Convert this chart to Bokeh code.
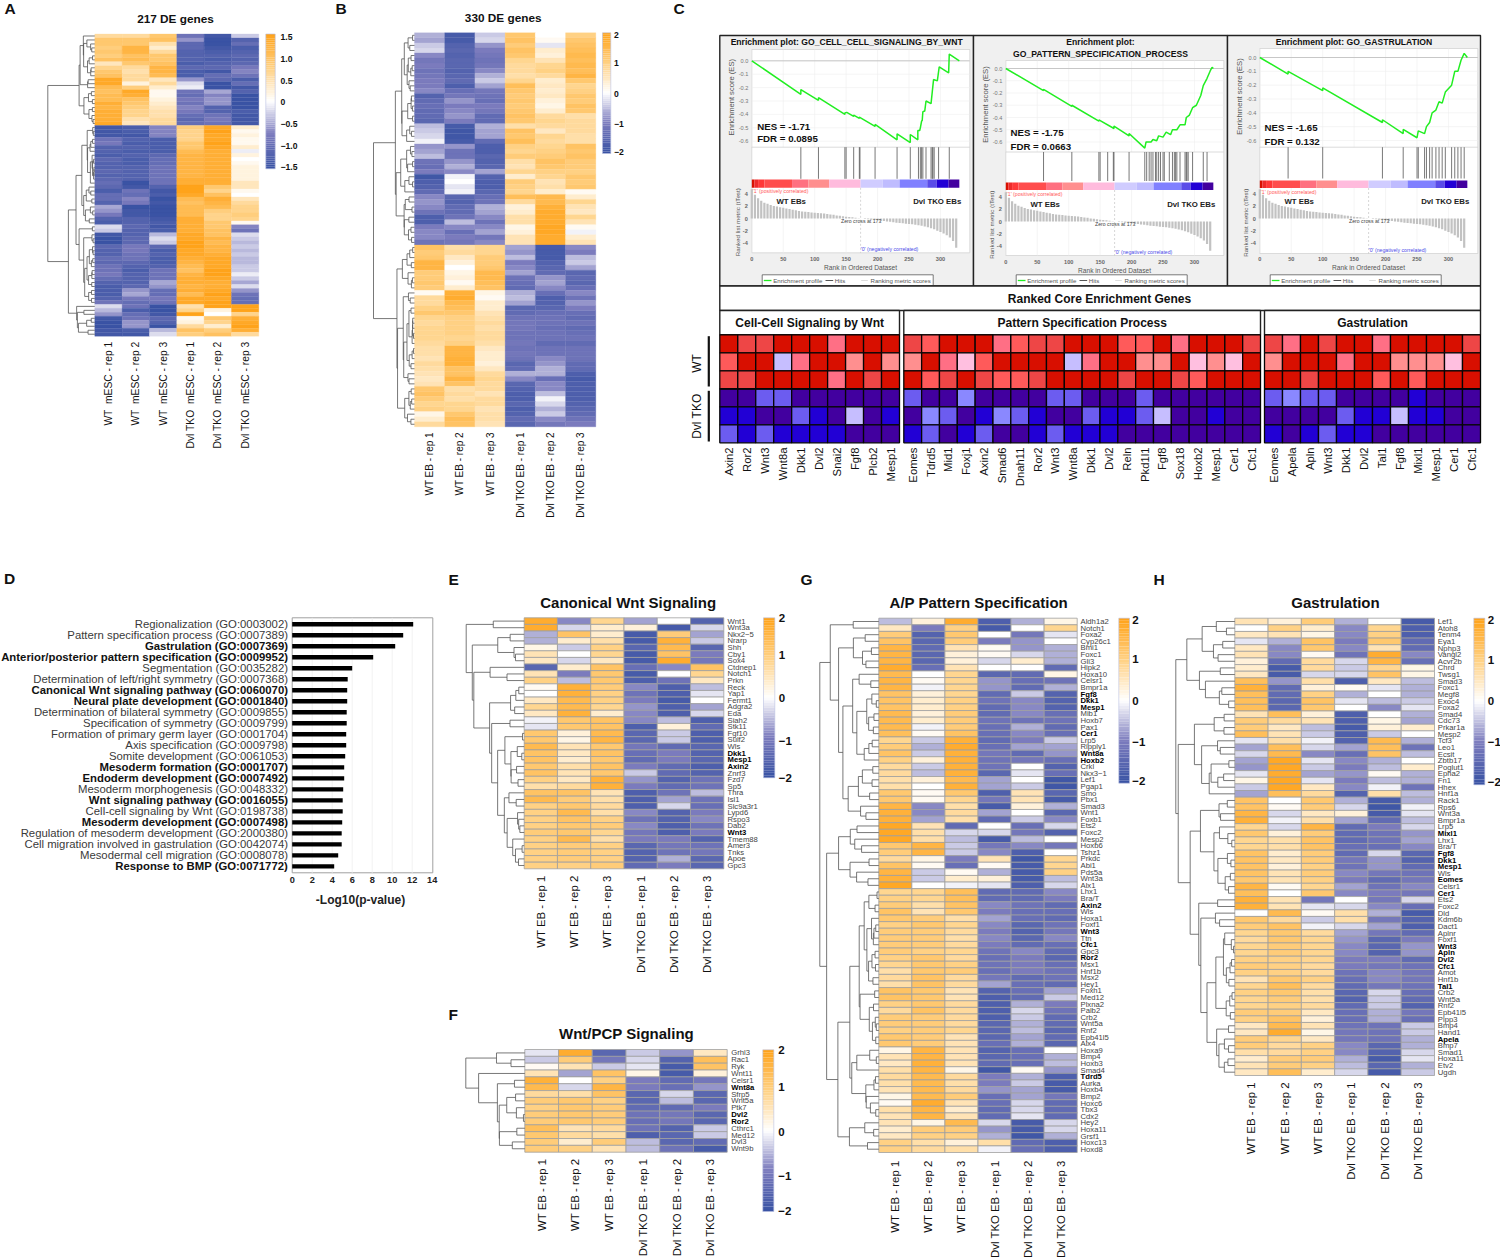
import numpy as np
from bokeh.embed import file_html
from bokeh.resources import INLINE
from bokeh.plotting import figure
from bokeh.models import Range1d, ColumnDataSource
from bokeh.core.properties import value

# ---------------- DATA ----------------
A_COLS = ["WT \u00a0mESC - rep 1", "WT \u00a0mESC - rep 2", "WT \u00a0mESC - rep 3",
          "Dvl TKO \u00a0mESC - rep 1", "Dvl TKO \u00a0mESC - rep 2", "Dvl TKO \u00a0mESC - rep 3"]
EB_COLS = ["WT EB - rep 1", "WT EB - rep 2", "WT EB - rep 3",
           "Dvl TKO EB - rep 1", "Dvl TKO EB - rep 2", "Dvl TKO EB - rep 3"]

A_VALUES = [
[6,6,9,-9,-14,-3],[9,9,10,-6,-15,-12],[9,9,5,-11,-15,-10],[8,12,3,-11,-14,-13],[9,12,6,-12,-13,-12],
[8,10,9,-12,-12,-11],[10,11,9,-12,-13,-12],[4,9,10,-13,-12,-11],[7,6,12,-11,-11,-8],[9,5,12,-13,-14,-7],
[10,6,11,-13,-10,-9],[14,6,4,-6,-11,-13],[14,2,6,-2,-15,-10],[11,8,3,-1,-15,-14],[10,14,1,-9,-5,-12],
[11,13,1,-10,-7,-15],[11,10,2,-8,-6,-15],[13,9,3,-9,-6,-16],[12,8,4,-7,-12,-15],[13,7,5,-8,-12,-13],
[13,7,5,-10,-9,-14],[13,5,6,-11,-8,-14],[14,4,6,-10,-9,-14],
[-14,-13,-7,8,14,3],[-14,-13,-7,7,15,1],[-14,-14,-7,7,14,2],[-9,-12,-13,7,14,1],[-8,-13,-13,9,15,1],
[-12,-12,-13,9,14,3],[-12,-13,-13,11,13,-1],[-13,-12,-11,12,13,2],[-11,-13,-10,12,13,0],[-12,-13,-10,12,13,1],
[-12,-12,-9,12,13,2],[-11,-12,-9,12,13,2],[-12,-12,-9,12,13,2],[-11,-12,-9,13,13,2],[-10,-15,-9,13,13,4],
[-11,-14,-12,16,9,4],[-13,-9,-14,15,7,1],[-10,-10,-13,14,10,0],[-10,-7,-15,11,13,4],[-12,-8,-14,10,12,6],
[-5,-15,-15,11,11,7],[-6,-14,-15,11,8,7],[-8,-14,-15,11,7,8],[-12,-12,-14,13,7,7],[-13,-12,-13,13,9,1],
[-2,-11,-14,13,9,-7],[-3,-12,-13,13,10,-9],[-14,-12,-4,14,10,-2],[-15,-11,-2,14,12,-3],[-15,-11,-3,15,11,-4],
[-11,-8,-11,15,12,-3],[-12,-8,-13,14,12,-4],[-12,-9,-12,14,13,-3],[-10,-9,-13,13,14,-4],[-11,-11,-13,12,14,-4],
[-9,-12,-12,11,14,-3],[-9,-13,-9,10,15,-3],[-8,-12,-9,12,15,-1],[-10,-12,-9,13,14,-3],[-12,-12,-5,13,13,-5],
[-13,-11,-6,12,13,-2],[-13,-6,-10,13,14,-6],[-13,-5,-10,11,15,-9],[-12,-8,-8,14,14,-10],[-9,-10,-9,14,15,-10],
[-2,-9,-15,5,15,15],[-4,-13,-15,7,2,15],[-6,-10,-14,16,0,7],[-14,-9,-11,1,9,13],[-15,-6,-12,2,7,14],
[-15,-6,-15,6,3,15],[-14,-13,-4,10,8,13],[-14,-14,-2,8,10,6]]

B_VALUES = [
[-6,-18,-4,12,0,10],[-7,-18,-3,13,1,12],[-4,-16,-8,11,-2,13],[-3,-15,-10,13,4,14],[-9,-16,-11,12,3,15],
[-11,-15,-12,9,6,14],[-10,-15,-11,8,9,15],[-12,-16,-9,8,10,14],[-11,-15,-6,7,8,16],[-10,-14,-4,9,4,12],
[-10,-17,-7,14,5,9],[-9,-13,-11,12,4,10],[-16,-11,-12,11,5,12],[-14,-8,-13,12,3,11],[-13,-10,-10,11,2,13],
[-14,-9,-11,12,4,12],[-14,-8,-14,13,8,7],[-15,-10,-14,12,9,8],[-5,-18,-6,7,8,8],[-4,-19,-7,13,5,8],
[-3,-19,-7,12,9,7],[-1,-18,-14,14,8,7],[-8,-8,-17,10,9,13],[-7,-12,-17,9,10,12],[-5,-12,-15,11,11,13],
[-12,-8,-16,7,13,11],[-13,-6,-15,6,12,11],[-10,-9,-7,9,10,10],[-19,-1,-16,4,9,12],[-17,0,-17,11,6,11],
[-16,-2,-17,10,7,12],[-14,-1,-15,9,4,1],[-9,-15,-13,14,15,4],[-8,-16,-12,8,15,9],[-9,-14,-6,3,17,6],
[-12,-14,-7,4,18,5],[-17,-12,-9,7,18,9],[-17,-5,-12,7,18,6],[-10,-9,-9,2,19,1],[-9,-13,-7,3,19,-1],
[-9,-10,-11,6,18,4],[-12,-11,-9,6,18,6],
[13,7,9,-7,-18,-9],[11,8,9,-8,-18,-10],[12,5,11,-5,-18,-5],[16,3,11,-10,-16,-4],[16,0,12,-9,-15,-7],
[11,2,15,-7,-14,-15],[11,3,15,-12,-8,-14],[12,1,14,-13,-7,-15],[11,4,13,-14,-9,-13],[1,17,2,-6,-13,-9],
[8,18,1,-5,-17,-12],[8,15,4,-7,-16,-8],[10,14,4,-15,-15,-10],[12,12,6,-14,-13,-13],[9,10,7,-12,-12,-14],
[8,10,8,-11,-12,-12],[9,10,7,-11,-13,-14],[9,10,8,-12,-12,-13],[9,9,8,-12,-12,-12],[8,10,7,-11,-14,-14],
[7,16,5,-12,-12,-12],[7,16,4,-11,-12,-12],[6,17,4,-12,-9,-12],[8,17,3,-15,-8,-14],[7,13,5,-14,-6,-14],
[6,13,8,-6,-6,-17],[5,16,9,-9,-13,-18],[6,13,8,-15,-9,-17],[12,7,8,-16,-9,-17],[13,8,6,-17,-5,-17],
[11,7,8,-17,-1,-17],[9,9,8,-15,-3,-16],[10,9,6,-17,-6,-15],[2,12,7,-16,-4,-14],[4,14,7,-14,-9,-12],[8,13,6,-15,-11,-10]]

E_GENES = ["Wnt1","Wnt3a","Nkx2\u22125","Nrarp","Shh","Cby1","Sox4","Ctdnep1","Notch1","Prkn","Reck","Yap1","Fermt1",
           "Adgra2","Eda","Siah2","Stk11","Fgf10","Sulf2","Wls","Dkk1","Mesp1","Axin2","Znrf3","Fzd7","Sp5","Thra",
           "Isl1","Slc9a3r1","Lypd6","Rspo3","Dab2","Wnt3","Tmem88","Amer3","Tnks","Apoe","Gpc3"]
E_BOLD = ["Dkk1","Mesp1","Axin2","Wnt3"]
E_VALUES = [
[18,-9,9,-7,0,-16],[18,-3,4,3,-18,-3],[-6,13,4,-18,11,-7],[-6,4,7,-18,17,-4],[2,-4,10,-15,15,-15],
[6,0,9,-18,13,-10],[5,-3,5,-18,18,-11],[-15,4,13,-13,-9,13],[6,-10,12,-18,0,9],[10,-5,12,-17,-12,5],
[1,17,11,-9,-17,-5],[0,17,10,-12,-17,-2],[5,15,10,-10,-18,0],[9,15,9,-8,-17,-7],[5,17,4,-9,-17,-3],
[-1,12,13,-9,-5,-17],[-2,12,13,-17,3,-14],[12,3,15,-15,-4,-17],[12,2,16,-15,-4,-17],[15,6,12,-11,-14,-15],
[13,5,13,-13,-10,-16],[13,4,12,-14,-10,-15],[12,7,13,-10,-14,-17],[13,6,12,-4,-14,-16],[10,5,17,-8,-16,-12],
[7,8,17,-10,-14,-12],[13,13,6,-17,-12,-5],[15,11,7,-17,-7,-12],[10,12,8,-17,-3,-13],[10,15,7,-9,-16,-10],
[10,13,10,-12,-16,-9],[10,12,11,-9,-17,-12],[11,12,9,-11,-17,-10],[10,15,7,-10,-10,-16],[10,11,10,-15,-11,-12],
[10,11,10,-16,-12,-11],[10,11,10,-16,-6,-15],[10,10,11,-14,-10,-15]]

F_GENES = ["Grhl3","Rac1","Ryk","Wnt11","Celsr1","Wnt8a","Sfrp5","Wnt5a","Ptk7","Dvl2","Ror2","Cthrc1","Med12","Dvl3","Wnt9b"]
F_BOLD = ["Wnt8a","Dvl2","Ror2"]
F_VALUES = [
[-2,18,-15,-4,-8,5],[-4,11,-11,-3,-16,14],[1,6,-4,-2,-18,13],[6,-7,13,2,-18,3],[17,0,10,-10,-14,-11],
[15,-3,16,-10,-13,-8],[8,7,13,-15,-3,-15],[11,12,10,-15,-5,-15],[10,12,11,-14,-14,-10],[11,12,11,-12,-11,-15],
[11,12,11,-13,-11,-15],[14,6,8,-12,-16,-4],[12,8,7,-17,-15,-4],[11,4,11,-5,-15,-14],[11,10,6,-5,-12,-18]]

G_GENES = ["Aldh1a2","Notch1","Foxa2","Cyp26c1","Bmi1","Foxc1","Gli3","Hipk2","Hoxa10","Celsr1","Bmpr1a","Fgf8","Dkk1",
           "Mesp1","Mib1","Hoxb7","Pax1","Cer1","Lrp5","Ripply1","Wnt8a","Hoxb2","Crkl","Nkx3\u22121","Lef1","Pgap1","Smo",
           "Pbx1","Smad3","Wnt1","Foxb1","Ets2","Foxc2","Mesp2","Hoxb6","Tshz1","Prkdc","Abi1","Pds5a","Wnt3a","Alx1",
           "Lhx1","Bra/T","Axin2","Wls","Hoxa1","Foxf1","Wnt3","Ttn","Cfc1","Gpc3","Ror2","Msx1","Hnf1b","Msx2","Hey1",
           "Foxh1","Med12","Plxna2","Palb2","Crb2","Wnt5a","Rnf2","Epb41l5","Alx4","Hoxa9","Bmp4","Hoxb3","Smad4","Tdrd5",
           "Aurka","Hoxb4","Bmp2","Hoxc6","Tbx3","Cdx2","Hey2","Hoxa11","Grsf1","Hoxc13","Hoxd8"]
G_BOLD = ["Fgf8","Dkk1","Mesp1","Cer1","Wnt8a","Hoxb2","Axin2","Wnt3","Cfc1","Ror2","Tdrd5"]
G_VALUES = [
[-5,3,18,-17,-6,2],[5,-10,10,-18,0,9],[11,-16,12,0,-11,-2],[13,-15,11,-10,-8,0],[16,-14,6,1,-8,-6],
[16,-15,3,1,-3,-6],[16,-15,3,-3,4,-6],[18,-13,6,0,0,-14],[15,0,9,-15,-14,2],[16,1,9,-8,-13,-12],
[16,-1,9,-8,-14,-6],[13,3,9,-14,-4,-16],[13,4,10,-12,-9,-16],[13,4,10,-14,-9,-16],[15,3,11,-14,-9,-13],
[15,4,11,-12,-12,-12],[15,-1,11,-13,-6,-14],[14,1,13,-13,-9,-13],[9,-4,17,-14,-10,-4],[11,-6,18,-13,-7,-7],
[13,-4,17,-11,-14,-8],[10,3,17,-12,-11,-13],[8,-4,17,-12,0,-16],[8,-5,17,-15,-2,-13],[7,3,15,-7,0,-19],
[7,0,17,-7,-4,-19],[12,1,12,-17,6,-15],[12,1,9,-11,6,-18],[16,-9,7,-18,3,-6],[17,-9,8,-7,0,-15],
[17,-7,7,-14,-4,-9],[19,6,-14,0,-13,-3],[19,7,-3,-3,-11,-16],[19,7,-5,-18,-5,0],[12,16,-4,-11,-9,-11],
[11,16,-4,-9,-17,0],[8,2,-10,6,-19,9],[13,1,-13,1,-18,9],[16,-4,1,-6,-18,10],[17,-4,4,3,-18,-5],
[19,0,-1,-2,-17,-3],[9,9,14,-14,-14,-9],[10,9,14,-14,-14,-10],[11,7,13,-9,-12,-14],[13,6,12,-10,-13,-13],
[12,11,7,-7,-13,-14],[10,12,9,-9,-15,-12],[11,11,8,-10,-16,-11],[11,11,7,-9,-15,-9],[11,11,8,-10,-14,-13],
[11,10,9,-12,-9,-14],[10,12,8,-13,-10,-15],[9,12,10,-12,-10,-13],[7,12,11,-13,-10,-12],[8,13,8,-11,-14,-12],
[7,13,8,-7,-13,-14],[13,12,6,-16,-13,-7],[13,12,6,-17,-14,-4],[10,12,8,-17,-6,-10],[8,13,8,-17,-3,-12],
[11,11,8,-17,-4,-14],[11,11,8,-15,-6,-14],[10,11,9,-15,-5,-15],[12,11,6,-15,-7,-14],[12,11,6,-13,-6,-15],
[2,16,6,-16,-13,0],[6,16,6,-15,-13,-6],[5,17,6,-14,-13,-5],[7,16,2,-19,1,-8],[8,15,8,-10,-6,-17],
[7,15,7,-10,-4,-18],[6,15,8,-8,-7,-18],[2,15,11,-13,-7,-11],[1,18,6,-13,-3,-14],[7,16,4,-14,-3,-14],
[6,16,6,-14,-2,-14],[6,2,15,-3,-18,-3],[4,11,11,-8,-18,-3],[5,10,10,-6,-19,-6],[10,7,3,7,-14,-17],[10,8,7,-1,-13,-17]]

H_GENES = ["Lef1","Atoh8","Tenm4","Eya1","Nphp3","Vangl2","Acvr2b","Chrd","Twsg1","Smad3","Foxc1","Megf8","Exoc4","Foxa2",
           "Smad4","Cdc73","Prkar1a","Mesp2","Tcf3","Leo1","Ecsit","Zbtb17","Poglut1","Epha2","Fn1","Hhex","Hnf1a","Rack1",
           "Rps6","Wnt3a","Bmpr1a","Lrp5","Mixl1","Lhx1","Bra/T","Fgf8","Dkk1","Mesp1","Wls","Eomes","Celsr1","Cer1","Ets2",
           "Foxc2","Dld","Kdm6b","Dact1","Aplnr","Foxf1","Wnt3","Apln","Dvl2","Cfc1","Amot","Hnf1b","Tal1","Crb2","Wnt5a",
           "Rnf2","Epb41l5","Plpp3","Bmp4","Hand1","Apela","Bmp7","Smad1","Hoxa11","Etv2","Ugdh"]
H_BOLD = ["Mixl1","Fgf8","Dkk1","Mesp1","Eomes","Cer1","Wnt3","Apln","Dvl2","Cfc1","Tal1","Apela"]
H_VALUES = [
[6,3,11,-6,0,-18],[0,10,4,-9,9,-17],[5,6,2,-9,10,-17],[-2,-6,13,-10,12,-14],[5,-9,12,-9,6,-14],
[6,-9,1,-12,18,-9],[3,-14,8,-3,16,-13],[4,-18,8,-4,9,2],[5,-18,-3,-3,13,2],[14,-8,7,-17,5,-5],
[17,-14,3,1,-2,-6],[14,-14,10,-6,0,-6],[14,-15,13,-2,-5,-4],[14,-15,12,0,-9,-2],[6,14,3,-17,0,-6],
[11,8,6,-17,2,-7],[11,5,-5,-18,3,4],[14,6,-4,-17,-4,0],[-2,7,-1,-16,15,-6],[-7,14,-3,-7,14,-12],
[-3,15,-9,-13,13,-5],[-7,19,-2,-9,-6,0],[-8,19,-4,-10,-5,4],[-2,18,-7,-8,1,-6],[2,19,-2,-10,-5,-6],
[-4,19,5,-9,-1,-12],[-7,14,8,-16,7,-5],[13,0,12,-6,-18,-6],[13,1,11,-3,-19,-1],[16,-3,5,3,-18,-2],
[17,-1,7,-7,-14,-5],[9,-3,16,-14,-10,-3],[12,3,11,-14,-12,-8],[9,7,13,-14,-12,-7],[9,7,13,-13,-13,-9],
[13,4,11,-14,-3,-15],[13,5,11,-11,-8,-16],[13,3,10,-12,-8,-14],[13,6,11,-9,-11,-12],[12,6,10,-10,-14,-11],
[16,1,9,-7,-12,-9],[14,0,12,-9,-10,-11],[17,6,-11,0,-11,-3],[17,6,-2,-3,-9,-13],[0,15,1,7,-6,-18],
[12,8,-4,7,-11,-16],[11,13,-1,-3,-7,-17],[9,12,8,-7,-11,-14],[8,12,9,-8,-15,-10],[9,11,9,-9,-15,-8],
[9,11,9,-9,-16,-8],[10,10,9,-10,-10,-14],[11,10,8,-10,-11,-12],[10,10,8,-12,-9,-11],[6,12,10,-13,-9,-11],
[9,14,8,-14,-11,-12],[10,12,7,-15,-3,-13],[9,11,7,-16,-4,-14],[9,10,8,-14,-4,-16],[11,11,5,-13,-6,-11],
[10,13,3,-13,-6,-13],[5,15,6,-12,-12,-4],[5,18,2,-11,-12,-4],[11,9,5,-11,-12,-6],[11,8,10,-9,-15,-6],
[7,8,10,-9,-16,-3],[4,11,11,-6,-18,-2],[6,11,10,-5,-15,-6],[5,14,4,-3,-18,-4]]

GO_NAMES = ["Regionalization","Pattern specification process","Gastrulation","Anterior/posterior pattern specification",
            "Segmentation","Determination of left/right symmetry","Canonical Wnt signaling pathway","Neural plate development",
            "Determination of bilateral symmetry","Specification of symmetry","Formation of primary germ layer","Axis specification",
            "Somite development","Mesoderm formation","Endoderm development","Mesoderm morphogenesis","Wnt signaling pathway",
            "Cell-cell signaling by Wnt","Mesoderm development","Regulation of mesoderm development",
            "Cell migration involved in gastrulation","Mesodermal cell migration","Response to BMP"]
GO_IDS = ["0003002","0007389","0007369","0009952","0035282","0007368","0060070","0001840","0009855","0009799","0001704",
          "0009798","0061053","0001707","0007492","0048332","0016055","0198738","0007498","2000380","0042074","0008078","0071772"]
GO_VALUES = [12.1,11.1,10.3,8.1,6.0,5.55,5.5,5.5,5.45,5.45,5.4,5.4,5.3,5.2,5.2,5.1,5.05,5.05,5.0,4.95,4.95,4.6,4.2]
GO_BOLD = ["Gastrulation","Anterior/posterior pattern specification","Canonical Wnt signaling pathway","Neural plate development",
           "Mesoderm formation","Endoderm development","Wnt signaling pathway","Mesoderm development","Response to BMP"]
GO_TICKS = [0,2,4,6,8,10,12,14]

# rank metric, one value per 5 ranks
RANK_METRIC = [4.8,3.9,3.3,2.9,2.6,2.4,2.2,2.05,1.95,1.85,1.75,1.65,1.55,1.45,1.35,1.25,1.15,1.1,1.05,1.0,
               .95,.9,.85,.8,.75,.65,.6,.5,.45,.35,.3,.25,.2,.12,.05,-.02,-.08,-.13,-.2,-.25,
               -.3,-.35,-.42,-.48,-.55,-.6,-.68,-.72,-.78,-.85,-.9,-.95,-1.02,-1.1,-1.18,-1.3,-1.42,-1.58,-1.78,-2.0,
               -2.2,-2.45,-2.75,-3.1,-3.7,-4.8]
STRIP_EDGES = [0,4,10,20,64,90,123,173,208,235,279,294,313,330]
STRIP_COLORS = ["#D81000","#EE2A2A","#FF3838","#FF4D4D","#FF7080","#FF8F8F","#FFBBDD","#D0CCFF","#BFBCFF","#8080FF","#5A4CE8","#2200D5","#42009F"]

ES_RANK_1 = [0,78,78,106,106,148,148,151,162,162,171,171,196,196,231,231,252,252,264,264,267,268,270,271,272,275,277,285,287,289,295,298,313,314,330]
ES_VAL_1  = [0,-.25,-.215,-.295,-.275,-.4,-.39,-.385,-.415,-.405,-.43,-.42,-.49,-.475,-.59,-.545,-.61,-.55,-.59,-.52,-.52,-.5,-.45,-.445,-.38,-.375,-.3,-.32,-.23,-.14,-.15,-.045,-.09,.05,0]
HITS_1 = [78,106,148,150,162,171,172,196,231,252,265,268,270,272,277,285,287,288,290,297,314]

ES_RANK_2 = [0,60,60,105,105,148,148,172,172,196,196,221,223,231,234,240,243,250,255,262,265,272,277,285,287,292,297,303,310,314,320,325,328,330]
ES_VAL_2  = [0,-.18,-.17,-.31,-.30,-.43,-.42,-.49,-.47,-.55,-.53,-.65,-.6,-.6,-.58,-.59,-.55,-.56,-.52,-.54,-.5,-.5,-.46,-.46,-.4,-.38,-.32,-.3,-.22,-.14,-.08,-.02,.01,0]
HITS_2 = [60,105,148,150,162,171,172,196,221,224,228,231,234,238,240,243,246,250,252,260,265,268,270,272,277,285,287,288,290,297,314,320]

ES_RANK_3 = [0,45,45,100,100,195,195,228,228,250,252,262,265,270,274,280,285,290,295,305,310,315,320,325,330]
ES_VAL_3  = [0,-.12,-.1,-.24,-.22,-.47,-.45,-.55,-.52,-.58,-.53,-.55,-.5,-.47,-.4,-.38,-.32,-.33,-.25,-.2,-.1,-.1,-.02,.03,0]
HITS_3 = [45,100,195,228,250,252,262,265,270,274,280,285,290,295,305,310,315,320,325]

ES_TICKS = [0.0,-0.1,-0.2,-0.3,-0.4,-0.5,-0.6]
METRIC_TICKS = [4,2,0,-2,-4]
RANK_TICKS = [0,50,100,150,200,250,300]

GSEA_TITLES = [["Enrichment plot: GO_CELL_CELL_SIGNALING_BY_WNT"],
               ["Enrichment plot:","GO_PATTERN_SPECIFICATION_PROCESS"],
               ["Enrichment plot: GO_GASTRULATION"]]
GSEA_STATS = [["NES = -1.71","FDR = 0.0895"],["NES = -1.75","FDR = 0.0663"],["NES = -1.65","FDR = 0.132"]]

CORE_HEADERS = ["Cell-Cell Signaling by Wnt","Pattern Specification Process","Gastrulation"]
CORE_GENES_1 = ["Axin2","Ror2","Wnt3","Wnt8a","Dkk1","Dvl2","Snai2","Fgf8","Plcb2","Mesp1"]
CORE_GENES_2 = ["Eomes","Tdrd5","Mid1","Foxj1","Axin2","Smad6","Dnah11","Ror2","Wnt3","Wnt8a","Dkk1","Dvl2","Reln","Pkd1l1","Fgf8","Sox18","Hoxb2","Mesp1","Cer1","Cfc1"]
CORE_GENES_3 = ["Eomes","Apela","Apln","Wnt3","Dkk1","Dvl2","Tal1","Fgf8","Mixl1","Mesp1","Cer1","Cfc1"]
CORE_VALUES_1 = [[5,4,4,5,5,5,2,5,5,5],[3,5,5,-1,2,5,5,1,5,1],[4,4,5,5,5,5,2,5,4,5],
                 [-4,-4,-3,-3,-4,-4,-4,-4,-4,-4],[-5,-5,-4,-4,-3,-5,-4,-1,-4,-5],[-3,-5,-3,-5,-5,-5,-5,-4,-4,-4]]
CORE_VALUES_2 = [[4,3,5,5,5,2,3,4,4,5,5,5,3,3,5,2,5,5,5,4],[1,5,2,0,3,5,5,5,5,-1,2,5,5,1,1,5,0,1,0,5],
                 [5,3,4,5,4,3,3,4,5,5,5,5,4,5,5,4,3,5,5,5],[-3,-4,-4,-2,-4,-4,-4,-4,-3,-3,-4,-4,-4,-3,-4,-4,-4,-4,-4,-4],
                 [-4,-2,-3,-4,-5,-2,-3,-5,-4,-4,-3,-5,-5,-3,-1,-4,-4,-5,-4,-4],[-5,-3,-4,-5,-3,-4,-4,-5,-3,-5,-5,-5,-4,-4,-4,-4,-4,-4,-4,-4]]
CORE_VALUES_3 = [[4,2,5,4,5,5,2,5,5,5,5,4],[1,5,5,5,2,5,5,1,1,1,0,5],[5,5,4,5,5,5,3,5,3,5,5,5],
                 [-3,-2,-3,-3,-4,-4,-4,-4,-5,-4,-4,-4],[-4,-4,-4,-4,-3,-5,-5,-1,-5,-5,-4,-4],[-5,-4,-5,-3,-5,-5,-4,-4,-4,-4,-4,-4]]
CORE_PALETTE = {5:"#D80F00",4:"#EE4646",3:"#FF5A5A",2:"#FF6F85",1:"#FF8F8F",0:"#FFBFE0",
                -1:"#C6BEFF",-2:"#8A88FF",-3:"#6C5CF0",-4:"#42009F",-5:"#2200D5"}

# ---------------- CANVAS ----------------
FONT = value("Liberation Sans")
p = figure(width=1500, height=1259, x_range=Range1d(0, 1500), y_range=Range1d(1259, 0),
           output_backend="svg", toolbar_location=None, min_border=0)
p.axis.visible = False
p.grid.visible = False
p.outline_line_color = None
p.background_fill_color = "white"
p.border_fill_color = "white"

def T(x, y, s, size, color="#000000", bold=False, align="left", angle=0.0):
    p.text(x=[x], y=[y], text=[s], text_font=FONT, text_font_size=f"{size}px", text_color=color,
           text_font_style="bold" if bold else "normal", text_align=align, text_baseline="middle", angle=angle)

def vT(x, y, s, size, color="#000000", bold=False, align="right"):
    T(x, y, s, size, color, bold, align, np.pi / 2)

STOPS = [(-1, (0x3A,0x53,0xA4)), (-.5, (0x7B,0x7B,0xBD)), (0, (255,255,255)), (.5, (0xFF,0xD1,0x84)), (1, (0xFF,0xA3,0x1A))]
def cmap(t):
    t = max(-1, min(1, t))
    for (a, ca), (b, cb) in zip(STOPS[:-1], STOPS[1:]):
        if t <= b:
            f = (t - a) / (b - a)
            return "#%02X%02X%02X" % tuple(int(round(ca[k] + f * (cb[k] - ca[k]))) for k in range(3))
    return "#FFA31A"

def dendrogram(mat, x_right, width, y_top, rh, color="#555555"):
    m = np.array(mat, dtype=float)
    D = np.sqrt(((m[:, None, :] - m[None, :, :]) ** 2).sum(-1))
    cl = [dict(idx=[i], y=y_top + (i + .5) * rh, h=0.0) for i in range(len(m))]
    segs = []
    while len(cl) > 1:
        ds = [D[np.ix_(cl[i]["idx"], cl[i + 1]["idx"])].max() for i in range(len(cl) - 1)]
        i = int(np.argmin(ds))
        a, b = cl[i], cl[i + 1]
        h = max(ds[i], a["h"], b["h"])
        segs += [(a["h"], a["y"], h, a["y"]), (b["h"], b["y"], h, b["y"]), (h, a["y"], h, b["y"])]
        cl[i:i + 2] = [dict(idx=a["idx"] + b["idx"], y=(a["y"] + b["y"]) / 2, h=h)]
    hmax = cl[0]["h"]
    s = np.array(segs)
    p.segment(x_right - width * s[:, 0] / hmax, s[:, 1], x_right - width * s[:, 2] / hmax, s[:, 3],
              line_color=color, line_width=0.8)

def heatmap(values, vmax, box, border):
    l, r, t, b = box
    m = np.array(values, dtype=float) / 10
    nr, nc = m.shape
    cw, rh = (r - l) / nc, (b - t) / nr
    rr, cc = np.meshgrid(np.arange(nr), np.arange(nc), indexing="ij")
    cols = [cmap(v / vmax) for v in m.ravel()]
    src = ColumnDataSource(dict(left=l + cc.ravel() * cw, right=l + (cc.ravel() + 1) * cw,
                                top=t + rr.ravel() * rh, bottom=t + (rr.ravel() + 1) * rh, c=cols))
    if border:
        p.quad(left="left", right="right", top="top", bottom="bottom", fill_color="c", line_color="#A0A0A0", line_width=0.8, source=src)
    else:
        p.quad(left="left", right="right", top="top", bottom="bottom", fill_color="c", line_color="c", line_width=0.3, source=src)
    return cw, rh

def colorbar(vmax, box, labels, label_y, label_x, size):
    l, r, t, b = box
    lv = np.linspace(1, -1, 64)
    e = np.linspace(t, b, 65)
    p.quad(left=l, right=r, top=e[:-1], bottom=e[1:], fill_color=[cmap(v) for v in lv], line_color=None)
    p.quad(left=[l], right=[r], top=[t], bottom=[b], fill_color=None, line_color="#B8C0E0", line_width=0.6)
    for s, y in zip(labels, label_y):
        T(label_x, y, s, size, "#111111", True)

def column_labels(cols, left, cw, y, size):
    for i, s in enumerate(cols):
        vT(left + (i + .5) * cw, y, s, size, "#111111")

def gene_labels(genes, bold, x, top, rh, size):
    for i, g in enumerate(genes):
        T(x, top + (i + .5) * rh, g, size, "#000000" if g in bold else "#444444", g in bold)

# ---- panel letters ----
for s, x, y in [("A",4,8),("B",335,8),("C",673,8),("D",3.5,578),("E",448,579),("F",448,1014),("G",800,579),("H",1153,579)]:
    T(x, y, s, 15.5, "#111111", True)

# ---- A ----
box = (94.3, 258.3, 33.5, 335.7)
cw, rh = heatmap(A_VALUES, 1.5, box, False)
dendrogram(A_VALUES, box[0], 47, box[2], rh)
T(175, 18, "217 DE genes", 11.8, "#111111", True, "center")
colorbar(1.5, (265.3, 274.7, 33.5, 168.3), ["1.5","1.0","0.5","0","\u22120.5","\u22121.0","\u22121.5"], [36,58,80,101,123,145,166], 280, 8.6)
column_labels(A_COLS, box[0], cw, 341, 10.3)

# ---- B ----
box = (414, 595.3, 32.3, 426.3)
cw, rh = heatmap(B_VALUES, 2, box, False)
dendrogram(B_VALUES, box[0], 41, box[2], rh)
T(502.7, 17.5, "330 DE genes", 11.8, "#111111", True, "center")
colorbar(2, (602, 610.3, 32.3, 153), ["2","1","0","\u22121","\u22122"], [34,62,93,123,151], 613.5, 8.6)
column_labels(EB_COLS, box[0], cw, 431.7, 10)

# ---- C: GSEA plots ----
GSEA_LAYOUT = [
    dict(dx=0, es_top=49, es0=60.3, es6=140.7, es_bot=146.7, hit_bot=178.3, strip=(179,187.3), met_bot=252.3, met0=218, xlab=258.3, rlab=266.7, eb=200.7, nes=(756.7,126,137.7), pos=190.7, neg=248.7, ylab=96.7),
    dict(dx=254, es_top=60, es0=68, es6=141.5, es_bot=151.5, hit_bot=180.5, strip=(182,189.5), met_bot=255, met0=221, xlab=261, rlab=269.5, eb=204, nes=(1010,132,146), pos=193.5, neg=251.5, ylab=104),
    dict(dx=508, es_top=48, es0=57, es6=140, es_bot=146.7, hit_bot=178, strip=(180,187.5), met_bot=253, met0=218, xlab=258.5, rlab=267, eb=201, nes=(1264,127,141), pos=191, neg=249, ylab=96),
]
GSEA_DATA = [(ES_RANK_1, ES_VAL_1, HITS_1), (ES_RANK_2, ES_VAL_2, HITS_2), (ES_RANK_3, ES_VAL_3, HITS_3)]
BOXES = [(719.3, 973), (973, 1227), (1227, 1480)]
GRAYTXT = "#555555"
for k, L in enumerate(GSEA_LAYOUT):
    es_r, es_v, hits = GSEA_DATA[k]
    l, r = BOXES[k]
    p.quad(left=[l], right=[r], top=[35], bottom=[285.5], fill_color="#F0F0F0", line_color="#222222", line_width=1.4)
    x0 = 751.3 + L["dx"]
    xs = lambda v: x0 + np.asarray(v, dtype=float) * 0.6289
    x1 = x0 + 218
    es = lambda v: L["es0"] + (L["es6"] - L["es0"]) * np.asarray(v, dtype=float) / -0.6
    met = lambda v: L["met0"] - 6.1 * np.asarray(v, dtype=float)
    p.quad(left=[x0], right=[x1], top=[L["es_top"]], bottom=[L["met_bot"]], fill_color="white", line_color="#C8C8C8", line_width=0.6)
    # grid
    p.segment(xs(RANK_TICKS), L["es_top"], xs(RANK_TICKS), L["es_bot"], line_color="#EEEEEE", line_width=0.6)
    p.segment(xs(RANK_TICKS), L["strip"][1], xs(RANK_TICKS), L["met_bot"], line_color="#EEEEEE", line_width=0.6)
    p.segment(x0, es(ES_TICKS), x1, es(ES_TICKS), line_color="#EEEEEE", line_width=0.6)
    p.segment(x0, [L["es0"]], x1, [L["es0"]], line_color="#BBBBBB", line_width=0.8)
    p.segment(x0, [L["es_bot"]], x1, [L["es_bot"]], line_color="#CCCCCC", line_width=0.7)
    # curve and hits
    p.line(xs(es_r), es(es_v), line_color="#22EE22", line_width=1.5)
    p.segment(xs(hits), L["es_bot"], xs(hits), L["hit_bot"], line_color="#555555", line_width=0.8)
    # strip
    e = xs(STRIP_EDGES)
    p.quad(left=e[:-1], right=e[1:], top=L["strip"][0], bottom=L["strip"][1], fill_color=STRIP_COLORS, line_color=None)
    # metric
    rk = np.arange(len(RANK_METRIC)) * 5
    p.segment(xs(rk), met(0), xs(rk), met(RANK_METRIC), line_color="#C2C2C2", line_width=2.2)
    p.segment(xs([173]), L["strip"][1], xs([173]), L["met_bot"], line_color="#BBBBBB", line_width=0.6, line_dash="2 2")
    # texts
    for i, s in enumerate(GSEA_TITLES[k]):
        T((l + r) / 2, 41 + 12 * i, s, 8.6, "#111111", True, "center")
    for v in ES_TICKS:
        T(x0 - 3.5, float(es(v)), f"{v:.1f}", 5.6, "#777777", False, "right")
    for v in METRIC_TICKS:
        T(x0 - 4, float(met(v)), str(v), 5.6, "#666666", True, "right")
    for v in RANK_TICKS:
        T(float(xs(v)), L["xlab"], str(v), 5.6, "#666666", True, "center")
    vT(x0 - 20.5, L["ylab"], "Enrichment score (ES)", 7.6, GRAYTXT, False, "center")
    vT(x0 - 14.5, (L["strip"][1] + L["met_bot"]) / 2 + 2, "Ranked list metric (tTest)", 6.2, GRAYTXT, False, "center")
    T(x0 + 108.7, L["rlab"], "Rank in Ordered Dataset", 6.6, GRAYTXT, False, "center")
    T(L["nes"][0], L["nes"][1], GSEA_STATS[k][0], 9.7, "#111111", True)
    T(L["nes"][0], L["nes"][2], GSEA_STATS[k][1], 9.7, "#111111", True)
    T(x0 + 39.4, L["eb"], "WT EBs", 7.8, "#222222", True, "center")
    T(x0 + 185.4, L["eb"], "Dvl TKO EBs", 7.8, "#222222", True, "center")
    T(x0 + 1, L["pos"], "'1' (positively correlated)", 5.2, "#FF5A5A")
    T(x0 + 137.7, L["neg"], "'0' (negatively correlated)", 5.2, "#4A4AE8", False, "center")
    T(x0 + 109.4, L["met0"] + 2, "Zero cross at 173", 5.2, "#444444", False, "center")
    # legend
    dx = L["dx"]
    p.quad(left=[761.7 + dx], right=[932.7 + dx], top=[274.3], bottom=[285], fill_color="white", line_color="#444444", line_width=0.7)
    p.segment([763.3 + dx], [280], [771 + dx], [280], line_color="#22EE22", line_width=1.3)
    p.segment([825 + dx], [280], [832.7 + dx], [280], line_color="#555555", line_width=1)
    p.segment([860.7 + dx], [280], [867.3 + dx], [280], line_color="#DDDDDD", line_width=1)
    T(772.7 + dx, 280, "Enrichment profile", 6.1, GRAYTXT)
    T(834.3 + dx, 280, "Hits", 6.1, GRAYTXT)
    T(870 + dx, 280, "Ranking metric scores", 6.1, GRAYTXT)

# ---- C: core enrichment table ----
p.quad(left=[719.3], right=[1480], top=[285.5], bottom=[310], fill_color="white", line_color="#222222", line_width=1.4)
T(1099, 298, "Ranked Core Enrichment Genes", 12, "#111111", True, "center")
CORE_X = [(719.3, 899), (903.3, 1260), (1264, 1480)]
CORE_Y = (334.3, 442.3)
for (l, r), head, genes, vals in zip(CORE_X, CORE_HEADERS, [CORE_GENES_1, CORE_GENES_2, CORE_GENES_3],
                                     [CORE_VALUES_1, CORE_VALUES_2, CORE_VALUES_3]):
    p.quad(left=[l], right=[r], top=[310], bottom=[CORE_Y[0]], fill_color="white", line_color="#222222", line_width=1.4)
    T((l + r) / 2, 322, head, 12, "#111111", True, "center")
    v = np.array(vals)
    nr, nc = v.shape
    cw = (r - l) / nc
    rh = (CORE_Y[1] - CORE_Y[0]) / nr
    rr, cc = np.meshgrid(np.arange(nr), np.arange(nc), indexing="ij")
    p.quad(left=l + cc.ravel() * cw, right=l + (cc.ravel() + 1) * cw, top=CORE_Y[0] + rr.ravel() * rh,
           bottom=CORE_Y[0] + (rr.ravel() + 1) * rh, fill_color=[CORE_PALETTE[int(c)] for c in v.ravel()],
           line_color="#050505", line_width=1.3)
    p.segment([l], [CORE_Y[0] + 3 * rh], [r], [CORE_Y[0] + 3 * rh], line_color="#050505", line_width=1.8)
    for i, g in enumerate(genes):
        vT(l + (i + .5) * cw, 447, g, 11.3, "#111111")
vT(696, 363, "WT", 12, "#111111", False, "center")
vT(696, 415.7, "Dvl TKO", 12, "#111111", False, "center")
p.segment([708.3, 708.3], [335.7, 390.3], [708.3, 708.3], [386, 441], line_color="#111111", line_width=2.2)

# ---- D ----
dl, dr, dt, db = 291.7, 432.3, 617.3, 872.3
dx = lambda v: dl + np.asarray(v, dtype=float) * 10.0
p.quad(left=[dl], right=[dr], top=[dt], bottom=[db], fill_color="white", line_color="#A0A0A0", line_width=1)
p.segment(dx(GO_TICKS[1:-1]), dt, dx(GO_TICKS[1:-1]), db, line_color="#EFEFEF", line_width=0.8)
ys = 623.7 + np.arange(len(GO_VALUES)) * 11.01
p.quad(left=dl, right=dx(GO_VALUES), top=ys - 2.2, bottom=ys + 2.2, fill_color="#000000", line_color=None)
for n, g, y in zip(GO_NAMES, GO_IDS, ys):
    b = n in GO_BOLD
    T(287.5, float(y), f"{n} (GO:{g})", 11.35, "#111111" if b else "#3A3A3A", b, "right")
for t in GO_TICKS:
    T(float(dx(t)), 879.5, str(t), 9.2, "#222222", True, "center")
T(360, 899, "-Log10(p-value)", 12, "#222222", True, "center")

# ---- E ----
box = (523.7, 723.3, 617.3, 868.3)
cw, rh = heatmap(E_VALUES, 2, box, True)
dendrogram(E_VALUES, box[0], 58, box[2], rh)
gene_labels(E_GENES, E_BOLD, 727, box[2], rh, 7.7)
T(627.7, 601.7, "Canonical Wnt Signaling", 15, "#111111", True, "center")
colorbar(2, (763, 774.3, 617.3, 777.3), ["2","1","0","\u22121","\u22122"], [617.5,654,697.7,740.7,777.3], 778.3, 11.5)
column_labels(EB_COLS, box[0], cw, 875, 11.4)

# ---- F ----
box = (524.3, 726.7, 1049, 1151.7)
cw, rh = heatmap(F_VALUES, 2, box, True)
dendrogram(F_VALUES, box[0], 59, box[2], rh)
gene_labels(F_GENES, F_BOLD, 730.7, box[2], rh, 7.7)
T(626, 1032.7, "Wnt/PCP Signaling", 15, "#111111", True, "center")
colorbar(2, (762.3, 773.3, 1049.3, 1211), ["2","1","0","\u22121","\u22122"], [1049.5,1086.7,1131,1175,1210.7], 777.7, 11.5)
column_labels(EB_COLS, box[0], cw, 1158.3, 11.4)

# ---- G ----
box = (878.3, 1076.7, 617.7, 1152)
cw, rh = heatmap(G_VALUES, 2, box, True)
dendrogram(G_VALUES, box[0], 59, box[2], rh)
gene_labels(G_GENES, G_BOLD, 1080, box[2], rh, 7.7)
T(978.3, 601.7, "A/P Pattern Specification", 15, "#111111", True, "center")
colorbar(2, (1118.3, 1129, 617.7, 782.7), ["2","1","0","\u22121","\u22122"], [619,658.3,700,741,780], 1131.7, 11.5)
column_labels(EB_COLS, box[0], cw, 1160, 11.4)

# ---- H ----
box = (1234.3, 1434, 617.7, 1075)
cw, rh = heatmap(H_VALUES, 2, box, True)
dendrogram(H_VALUES, box[0], 59, box[2], rh)
gene_labels(H_GENES, H_BOLD, 1437.3, box[2], rh, 7.7)
T(1335, 601.7, "Gastrulation", 15, "#111111", True, "center")
colorbar(2, (1473.3, 1484.3, 617.7, 784.3), ["2","1","0","\u22121","\u22122"], [619,659,700.3,741.7,781.7], 1487.3, 11.5)
column_labels(EB_COLS, box[0], cw, 1081.7, 11.4)

open("out.html", "w").write(file_html(p, INLINE))
